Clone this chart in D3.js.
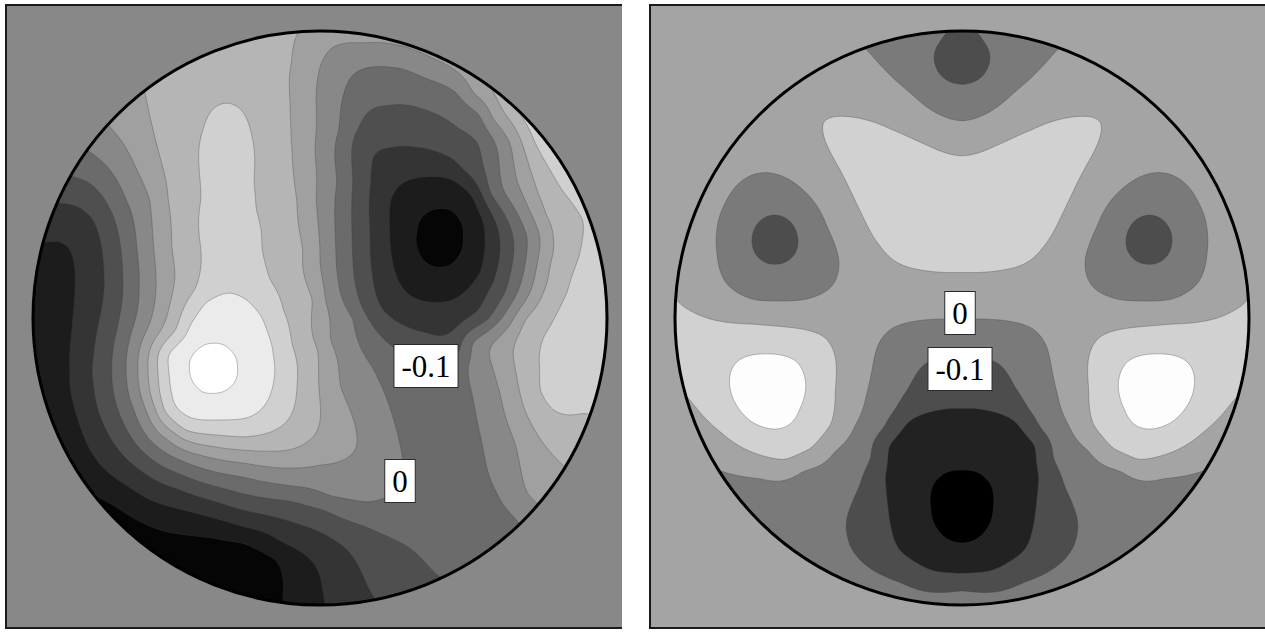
<!DOCTYPE html>
<html lang="en">
<head>
<meta charset="UTF-8">
<title>Wavefront contour maps</title>
<script src="https://d3js.org/d3.v7.min.js"></script>
<style>
  body { margin: 0; background: #fff; }
  svg { display: block; }
  .label-box { fill: #fff; stroke: #2a2a2a; stroke-width: 1; }
  .label-text { font-family: "Liberation Serif", "DejaVu Serif", serif; font-size: 31px; fill: #000; }
</style>
</head>
<body>
<svg width="1265" height="632"></svg>
<script>
// Pupil coordinates: origin at the pupil centre, v pointing up,
// pupil radius = 287 units. Samples are [u, v, wavefront value].
const PUPIL_R = 287;

// ---------- left map ----------
const leftLevels = [-0.4, -0.3, -0.2, -0.1, 0, 0.1, 0.2, 0.3, 0.4, 0.5];
const leftGrays = ["#050505", "#1c1c1c", "#343434", "#4f4f4f", "#6b6b6b", "#888888",
                   "#a0a0a0", "#b5b5b5", "#d0d0d0", "#ebebeb", "#ffffff"];
const leftSamples = [
  // -0.4
  [-240,-167,-0.4],[-207,-187,-0.4],[-157,-213,-0.4],[-107,-220,-0.4],[-77,-225,-0.4],[-45,-241,-0.4],[-37,-261,-0.4],[-37,-281,-0.4],
  [97,85,-0.4],[107,105,-0.4],[120,109,-0.4],[137,101,-0.4],[143,81,-0.4],[138,61,-0.4],[123,51,-0.4],[107,55,-0.4],[98,68,-0.4],
  // -0.3
  [-277,75,-0.3],[-263,77,-0.3],[-250,68,-0.3],[-245,28,-0.3],[-248,-12,-0.3],[-250,-52,-0.3],[-245,-92,-0.3],[-230,-132,-0.3],
  [-205,-160,-0.3],[-170,-182,-0.3],[-125,-195,-0.3],[-77,-209,-0.3],[-37,-225,-0.3],[-4,-249,-0.3],[4,-281,-0.3],
  [70,115,-0.3],[83,135,-0.3],[107,141,-0.3],[133,138,-0.3],[153,121,-0.3],[163,98,-0.3],[165,71,-0.3],[160,45,-0.3],
  [143,25,-0.3],[120,16,-0.3],[93,21,-0.3],[77,41,-0.3],[70,75,-0.3],
  // -0.2
  [-262,115,-0.2],[-247,113,-0.2],[-227,98,-0.2],[-218,68,-0.2],[-216,28,-0.2],[-223,-12,-0.2],[-228,-52,-0.2],[-222,-92,-0.2],
  [-205,-127,-0.2],[-180,-152,-0.2],[-140,-172,-0.2],[-77,-192,-0.2],[-16,-208,-0.2],[24,-229,-0.2],[46,-265,-0.2],
  [53,161,-0.2],[70,170,-0.2],[93,171,-0.2],[120,165,-0.2],[143,148,-0.2],[160,128,-0.2],[173,101,-0.2],[180,71,-0.2],
  [176,45,-0.2],[167,25,-0.2],[155,5,-0.2],[133,-13,-0.2],[108,-15,-0.2],[83,-7,-0.2],[63,8,-0.2],[53,38,-0.2],[50,88,-0.2],[50,128,-0.2],
  // -0.1
  [-247,141,-0.1],[-232,136,-0.1],[-215,118,-0.1],[-199,68,-0.1],[-197,28,-0.1],[-203,-12,-0.1],[-208,-52,-0.1],[-202,-92,-0.1],
  [-187,-122,-0.1],[-160,-147,-0.1],[-120,-164,-0.1],[-77,-176,-0.1],[-30,-183,-0.1],[4,-192,-0.1],[44,-208,-0.1],[85,-227,-0.1],[117,-257,-0.1],
  [33,178,-0.1],[47,205,-0.1],[67,212,-0.1],[87,213,-0.1],[113,205,-0.1],[140,188,-0.1],[158,175,-0.1],[170,125,-0.1],
  [185,103,-0.1],[193,81,-0.1],[192,53,-0.1],[185,25,-0.1],[168,-2,-0.1],[140,-34,-0.1],[110,-48,-0.1],[85,-37,-0.1],
  [60,-17,-0.1],[43,8,-0.1],[33,55,-0.1],[32,121,-0.1],
  // 0
  [-230,166,0],[-210,148,0],[-194,118,0],[-183,68,0],[-181,28,0],[-188,-12,0],[-194,-52,0],[-186,-92,0],[-170,-122,0],
  [-140,-142,0],[-77,-159,0],[-30,-168,0],[10,-178,0],[45,-184,0],[65,-180,0],[80,-163,0],[80,-127,0],[73,-100,0],
  [53,-50,0],[33,0,0],[18,38,0],[15,88,0],[17,138,0],[19,188,0],[25,228,0],[35,245,0],[50,251,0],[83,249,0],
  [110,238,0],[137,225,0],[160,203,0],[175,175,0],[185,125,0],[198,103,0],[207,81,0],[205,53,0],[197,25,0],
  [175,-7,0],[152,-25,0],[148,-47,0],[152,-75,0],[162,-125,0],[177,-175,0],[195,-200,0],[220,-227,0],
  // 0.1
  [-210,191,0.1],[-197,175,0.1],[-183,148,0.1],[-170,118,0.1],[-166,68,0.1],[-164,28,0.1],[-173,-12,0.1],[-182,-52,0.1],
  [-174,-92,0.1],[-155,-120,0.1],[-120,-137,0.1],[-77,-145,0.1],[-30,-150,0.1],[0,-147,0.1],[20,-143,0.1],[37,-127,0.1],
  [33,-100,0.1],[20,-67,0.1],[10,-22,0.1],[5,18,0.1],[0,55,0.1],[-4,121,0.1],[-5,171,0.1],[-4,221,0.1],[0,251,0.1],
  [13,271,0.1],[43,275,0.1],[77,273,0.1],[110,261,0.1],[143,241,0.1],[153,225,0.1],[172,200,0.1],[190,175,0.1],
  [202,125,0.1],[212,103,0.1],[220,81,0.1],[217,53,0.1],[210,25,0.1],[190,-7,0.1],[173,-25,0.1],[173,-50,0.1],
  [180,-75,0.1],[195,-125,0.1],[207,-175,0.1],[225,-192,0.1],
  // 0.2
  [-175,225,0.2],[-170,201,0.2],[-162,168,0.2],[-152,118,0.2],[-148,68,0.2],[-147,28,0.2],[-159,-12,0.2],[-172,-52,0.2],
  [-164,-92,0.2],[-145,-115,0.2],[-110,-128,0.2],[-77,-132,0.2],[-30,-132,0.2],[-7,-119,0.2],[0,-82,0.2],[-2,-32,0.2],
  [-7,18,0.2],[-17,68,0.2],[-23,118,0.2],[-28,168,0.2],[-30,218,0.2],[-28,258,0.2],[-23,283,0.2],
  [170,232,0.2],[175,223,0.2],[190,198,0.2],[202,175,0.2],[218,125,0.2],[226,103,0.2],[233,81,0.2],[230,53,0.2],
  [223,25,0.2],[205,-2,0.2],[195,-25,0.2],[195,-50,0.2],[200,-75,0.2],[223,-125,0.2],[240,-144,0.2],
  // 0.3
  [-117,188,0.3],[-119,118,0.3],[-119,68,0.3],[-125,28,0.3],[-144,-12,0.3],[-162,-52,0.3],[-156,-92,0.3],[-135,-112,0.3],
  [-77,-119,0.3],[-45,-112,0.3],[-29,-97,0.3],[-23,-67,0.3],[-28,-27,0.3],[-37,8,0.3],[-50,38,0.3],[-58,68,0.3],
  [-64,108,0.3],[-66,138,0.3],[-68,181,0.3],[-77,206,0.3],[-93,215,0.3],[-108,208,0.3],
  [197,208,0.3],[215,175,0.3],[232,145,0.3],[250,118,0.3],[263,98,0.3],[258,58,0.3],[247,25,0.3],[230,-9,0.3],
  [219,-42,0.3],[220,-72,0.3],[233,-92,0.3],[250,-97,0.3],[265,-95,0.3],
  // 0.4
  [-93,25,0.4],[-73,18,0.4],[-58,1,0.4],[-48,-27,0.4],[-45,-52,0.4],[-52,-82,0.4],[-70,-99,0.4],[-105,-102,0.4],
  [-143,-90,0.4],[-150,-67,0.4],[-152,-37,0.4],[-130,-7,0.4],[-115,15,0.4],
  // 0.5
  [-107,-26,0.5],[-90,-32,0.5],[-83,-50,0.5],[-90,-69,0.5],[-107,-75,0.5],[-124,-67,0.5],[-130,-50,0.5],[-123,-32,0.5],
  // peaks, troughs and band interiors
  [-107,-50,0.57],[120,80,-0.48],[-275,-2,-0.36],[-275,-62,-0.37],[-260,-122,-0.39],[-120,-257,-0.48],[-80,-267,-0.46],
  [265,18,0.36],[245,-27,0.34],[250,-62,0.34],[292,-2,0.38],
  [160,-48,0.05],[184,-48,0.15],[207,-48,0.25],
  [-92,168,0.33],[-92,98,0.35],[-92,8,0.43],[-90,258,0.26],[110,-102,-0.05],[130,-182,-0.05]
];
const leftLabels = [
  { text: "-0.1", u: 106, v: -48 },
  { text: "0", u: 80, v: -163 }
];

// ---------- right map (mirror symmetric, left half given) ----------
const rightLevels = [-0.3, -0.2, -0.1, 0, 0.1, 0.2];
const rightGrays = ["#000000", "#222222", "#4d4d4d", "#7a7a7a", "#a4a4a4", "#d1d1d1", "#fdfdfd"];
const rightSamplesHalf = [
  // 0.2
  [-195,-36,0.2],[-167,-42,0.2],[-156,-67,0.2],[-163,-91,0.2],[-187,-111,0.2],[-212,-103,0.2],[-228,-83,0.2],[-232,-59,0.2],[-220,-40,0.2],
  // 0.1
  [-284,16,0.1],[-248,-2,0.1],[-208,-6,0.1],[-167,-10,0.1],[-139,-18,0.1],[-127,-38,0.1],[-127,-71,0.1],[-131,-107,0.1],
  [-151,-131,0.1],[-175,-142,0.1],[-208,-135,0.1],[-240,-115,0.1],[-268,-87,0.1],[-276,-77,0.1],
  [-139,197,0.1],[-131,201,0.1],[-110,201,0.1],[-70,188,0.1],[-33,172,0.1],[0,162,0.1],[0,46,0.1],[-46,49,0.1],
  [-70,59,0.1],[-90,83,0.1],[-110,124,0.1],[-131,164,0.1],[-139,188,0.1],
  // 0
  [-94,267,0],[-66,237,0],[-38,213,0],[0,197,0],
  [-191,145,0],[-159,128,0],[-135,91,0],[-123,59,0],[-131,31,0],[-159,18,0],[-208,18,0],[-236,35,0],[-246,75,0],
  [-236,116,0],[-216,140,0],
  [-244,-152,0],[-202,-160,0],[-159,-152,0],[-127,-132,0],[-107,-107,0],[-96,-77,0],[-86,-32,0],[-70,-10,0],[-37,-2,0],[0,-1,0],
  // -0.1
  [-28,259,-0.1],[-20,241,-0.1],[0,234,-0.1],[-20,277,-0.1],
  [-210,78,-0.1],[-203,96,-0.1],[-187,103,-0.1],[-171,96,-0.1],[-164,78,-0.1],[-171,60,-0.1],[-187,54,-0.1],[-203,60,-0.1],
  [0,-38,-0.1],[-38,-46,-0.1],[-54,-71,-0.1],[-66,-91,-0.1],[-78,-111,-0.1],[-90,-140,-0.1],[-102,-168,-0.1],
  [-111,-188,-0.1],[-116,-208,-0.1],[-112,-228,-0.1],[-102,-242,-0.1],[-62,-264,-0.1],[0,-272,-0.1],
  // -0.2
  [0,-91,-0.2],[-30,-94,-0.2],[-54,-103,-0.2],[-74,-127,-0.2],[-77,-157,-0.2],[-74,-188,-0.2],[-70,-212,-0.2],
  [-62,-233,-0.2],[-29,-253,-0.2],[0,-256,-0.2],
  // -0.3
  [0,-153,-0.3],[-22,-161,-0.3],[-31,-189,-0.3],[-22,-214,-0.3],[0,-225,-0.3],
  // peaks, troughs and band interiors
  [-194,-70,0.26],[0,108,0.17],[-57,153,0.15],[-282,-32,0.14],
  [0,260,-0.14],[-187,78,-0.14],[0,-168,-0.32],[0,-189,-0.35],
  [-142,-227,-0.05],[-262,68,0.05],[-82,18,0.05],[0,22,0.06],[-62,213,0.05],[-132,238,0.05]
];
const rightLabels = [
  { text: "0", u: -2, v: 5 },
  { text: "-0.1", u: -2, v: -51 }
];

// ---------- helpers ----------
function solve(A, b) {
  const n = b.length;
  for (let c = 0; c < n; c++) {
    let p = c;
    for (let r = c + 1; r < n; r++) if (Math.abs(A[r][c]) > Math.abs(A[p][c])) p = r;
    [A[c], A[p]] = [A[p], A[c]];
    [b[c], b[p]] = [b[p], b[c]];
    for (let r = c + 1; r < n; r++) {
      const f = A[r][c] / A[c][c];
      if (f === 0) continue;
      for (let k = c; k < n; k++) A[r][k] -= f * A[c][k];
      b[r] -= f * b[c];
    }
  }
  const x = new Float64Array(n);
  for (let r = n - 1; r >= 0; r--) {
    let s = b[r];
    for (let k = r + 1; k < n; k++) s -= A[r][k] * x[k];
    x[r] = s / A[r][r];
  }
  return x;
}

// thin plate spline through the samples (smoothed)
function fitSurface(samples, lambda) {
  const n = samples.length, N = n + 3;
  const px = samples.map(d => d[0] / PUPIL_R), py = samples.map(d => d[1] / PUPIL_R);
  const kern = r2 => r2 > 1e-12 ? 0.5 * r2 * Math.log(r2) : 0;
  const A = Array.from({ length: N }, () => new Float64Array(N));
  const b = new Float64Array(N);
  for (let i = 0; i < n; i++) {
    for (let j = 0; j < n; j++) {
      const dx = px[i] - px[j], dy = py[i] - py[j];
      A[i][j] = kern(dx * dx + dy * dy) + (i === j ? lambda : 0);
    }
    A[i][n] = A[n][i] = 1;
    A[i][n + 1] = A[n + 1][i] = px[i];
    A[i][n + 2] = A[n + 2][i] = py[i];
    b[i] = samples[i][2];
  }
  const w = solve(A, b);
  return (u, v) => {
    const x = u / PUPIL_R, y = v / PUPIL_R;
    let s = w[n] + w[n + 1] * x + w[n + 2] * y;
    for (let i = 0; i < n; i++) {
      const dx = x - px[i], dy = y - py[i];
      s += w[i] * kern(dx * dx + dy * dy);
    }
    return s;
  };
}

const svg = d3.select("svg");
const defs = svg.append("defs");

function drawPanel(cfg) {
  const { id, frame, cx, cy, r, bg, levels, grays, samples, labels, smooth } = cfg;

  // frame
  const g = svg.append("g");
  g.append("rect")
    .attr("x", frame.x0).attr("y", frame.y0)
    .attr("width", frame.x1 - frame.x0).attr("height", frame.y1 - frame.y0)
    .attr("fill", bg);
  const edge = [
    [frame.x0, frame.y0 - 1, frame.x0, frame.y1 + 1],
    [frame.x0, frame.y0, frame.x1, frame.y0],
    [frame.x0, frame.y1, frame.x1, frame.y1]
  ];
  g.selectAll("line.frame").data(edge).join("line")
    .attr("class", "frame")
    .attr("x1", d => d[0]).attr("y1", d => d[1]).attr("x2", d => d[2]).attr("y2", d => d[3])
    .attr("stroke", "#1a1a1a").attr("stroke-width", 2);

  const x = d3.scaleLinear().domain([-PUPIL_R, PUPIL_R]).range([cx - r, cx + r]);
  const y = d3.scaleLinear().domain([-PUPIL_R, PUPIL_R]).range([cy + r, cy - r]);

  // field on a grid
  const ext = 300, n = 240, step = 2 * ext / n;
  const field = fitSurface(samples, smooth);
  const values = new Float64Array(n * n);
  for (let j = 0; j < n; j++) {
    const v = ext - (j + 0.5) * step;
    for (let i = 0; i < n; i++) {
      values[j * n + i] = field(-ext + (i + 0.5) * step, v);
    }
  }
  const bands = d3.contours().size([n, n]).thresholds(levels)(values);
  const pxPerUnit = (x(1) - x(0));
  const path = d3.geoPath(d3.geoIdentity().scale(step * pxPerUnit).translate([x(-ext), y(ext)]));

  defs.append("clipPath").attr("id", "clip-" + id)
    .append("circle").attr("cx", cx).attr("cy", cy).attr("r", r);

  const disc = g.append("g").attr("clip-path", `url(#clip-${id})`);
  disc.append("circle").attr("cx", cx).attr("cy", cy).attr("r", r).attr("fill", grays[0]);
  disc.selectAll("path.band").data(bands).join("path")
    .attr("class", "band")
    .attr("d", path)
    .attr("fill", (d, i) => grays[i + 1]);
  disc.selectAll("path.iso").data(bands).join("path")
    .attr("class", "iso")
    .attr("d", path)
    .attr("fill", "none")
    .attr("stroke", "#3c3c3c")
    .attr("stroke-opacity", 0.55)
    .attr("stroke-width", 0.6);

  g.append("circle").attr("cx", cx).attr("cy", cy).attr("r", r)
    .attr("fill", "none").attr("stroke", "#000").attr("stroke-width", 3);

  // contour value labels
  const lab = g.selectAll("g.lab").data(labels).join("g").attr("class", "lab")
    .attr("transform", d => `translate(${x(d.u)},${y(d.v)})`);
  const rects = lab.append("rect").attr("class", "label-box");
  const texts = lab.append("text").attr("class", "label-text")
    .attr("text-anchor", "middle").attr("y", 10.5)
    .text(d => d.text);
  texts.each(function (d) { d.w = this.getComputedTextLength() + 15; });
  rects.attr("x", d => -d.w / 2).attr("y", -21.5).attr("width", d => d.w).attr("height", 43);
}

const rightSamples = rightSamplesHalf.concat(
  rightSamplesHalf.filter(d => d[0] < 0).map(d => [-d[0], d[1], d[2]])
);

drawPanel({
  id: "left", frame: { x0: 6, y0: 5, x1: 622, y1: 628 },
  cx: 320, cy: 318, r: 287, bg: "#888888", smooth: 7e-4,
  levels: leftLevels, grays: leftGrays, samples: leftSamples, labels: leftLabels
});
drawPanel({
  id: "right", frame: { x0: 650, y0: 5, x1: 1265, y1: 628 },
  cx: 962, cy: 318, r: 287, bg: "#a4a4a4", smooth: 1.5e-3,
  levels: rightLevels, grays: rightGrays, samples: rightSamples, labels: rightLabels
});
</script>
</body>
</html>
